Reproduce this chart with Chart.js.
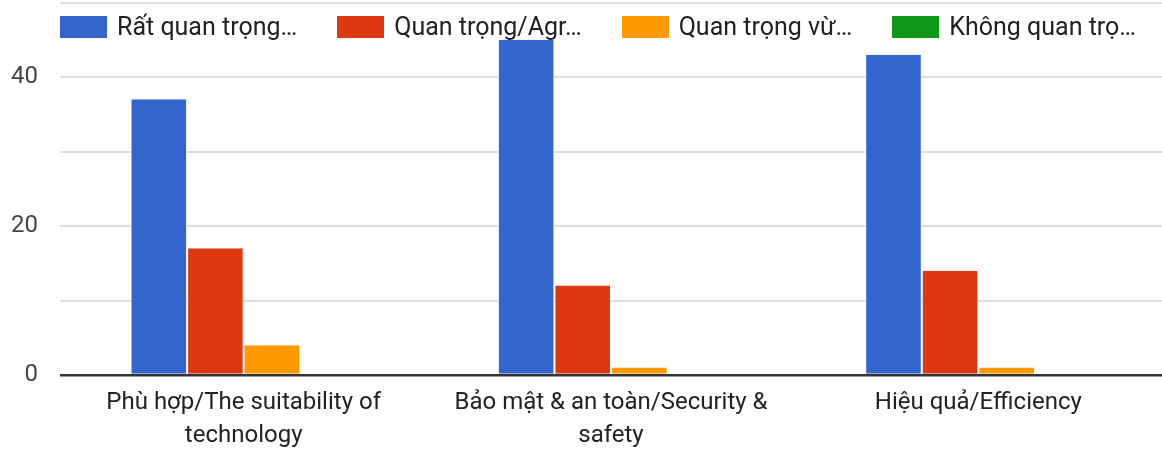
<!DOCTYPE html>
<html>
<head>
<meta charset="utf-8">
<script src="https://cdn.jsdelivr.net/npm/chart.js@4.4.1/dist/chart.umd.min.js"></script>
<style>
  html, body { margin: 0; padding: 0; background: #fff; overflow: hidden; }
  #wrap { position: relative; width: 1162px; height: 451px; overflow: hidden; }
  #legend {
    position: absolute; left: 60px; top: 15px;
    display: flex; gap: 40px; align-items: center;
    font-family: Roboto, "Noto Sans", sans-serif; font-size: 25px; color: #222;
    line-height: 24px; white-space: nowrap;
  }
  #legend .item { display: flex; align-items: center; white-space: nowrap; background: #fff; }
  #legend .sw { width: 47px; height: 22px; margin-right: 10px; }
</style>
</head>
<body>
<div id="wrap">
  <canvas id="c" width="1162" height="451"></canvas>
  <div id="legend"></div>
</div>
<script>
// Survey answers per criterion
const categories = [
  ["Phù hợp/The suitability of", "technology"],
  ["Bảo mật & an toàn/Security &", "safety"],
  ["Hiệu quả/Efficiency"]
];
const seriesNames = ["Rất quan trọng…", "Quan trọng/Agr…", "Quan trọng vừ…", "Không quan trọ…"];
const veryImportant = [37, 45, 43];
const important = [17, 12, 14];
const moderate = [4, 1, 1];
const notImportant = [0, 0, 0];
const yTickLabels = ["0", "20", "40"];

const colors = ["#3366CC", "#DC3912", "#FF9900", "#109618"];
const seriesValues = [veryImportant, important, moderate, notImportant];

const datasets = seriesNames.map((name, i) => ({
  label: name,
  data: seriesValues[i],
  backgroundColor: colors[i],
  borderColor: "#ffffff",
  borderWidth: { left: 1, right: 1, top: 0, bottom: 0 },
  borderSkipped: false,
  categoryPercentage: 0.616,
  barPercentage: 1.0
}));

const fontFamily = "Roboto, 'Noto Sans', sans-serif";

new Chart(document.getElementById("c"), {
  type: "bar",
  data: { labels: categories, datasets },
  options: {
    responsive: false,
    animation: false,
    events: [],
    layout: { padding: { top: 2.5, right: 0, left: 0, bottom: 0 } },
    plugins: { legend: { display: false }, tooltip: { enabled: false } },
    scales: {
      x: {
        grid: { display: false, drawTicks: false },
        border: { display: false },
        ticks: { font: { family: fontFamily, size: 24, lineHeight: 1.35 }, color: "#222", padding: 12, maxRotation: 0, autoSkip: false },
        afterFit: (s) => { s.height = 76; s.paddingLeft = 0; s.paddingRight = 0; }
      },
      y: {
        min: 0, max: 50,
        border: { display: false },
        grid: {
          drawTicks: false,
          color: (ctx) => ctx.tick && ctx.tick.value === 0 ? "#333333" : "#dddddd",
          lineWidth: (ctx) => ctx.tick && ctx.tick.value === 0 ? 2.5 : 2
        },
        ticks: {
          stepSize: 10,
          font: { family: fontFamily, size: 24 }, color: "#444",
          padding: 22,
          callback: (v) => yTickLabels.includes(String(v)) ? String(v) : ""
        },
        afterFit: (s) => { s.width = 60; s.paddingTop = 0; s.paddingBottom = 0; }
      }
    }
  }
});

// Legend built from the same series definitions
const legendEl = document.getElementById("legend");
seriesNames.forEach((name, i) => {
  const item = document.createElement("div");
  item.className = "item";
  const sw = document.createElement("span");
  sw.className = "sw";
  sw.style.background = colors[i];
  const tx = document.createElement("span");
  tx.textContent = name;
  item.appendChild(sw);
  item.appendChild(tx);
  legendEl.appendChild(item);
});
</script>
</body>
</html>
